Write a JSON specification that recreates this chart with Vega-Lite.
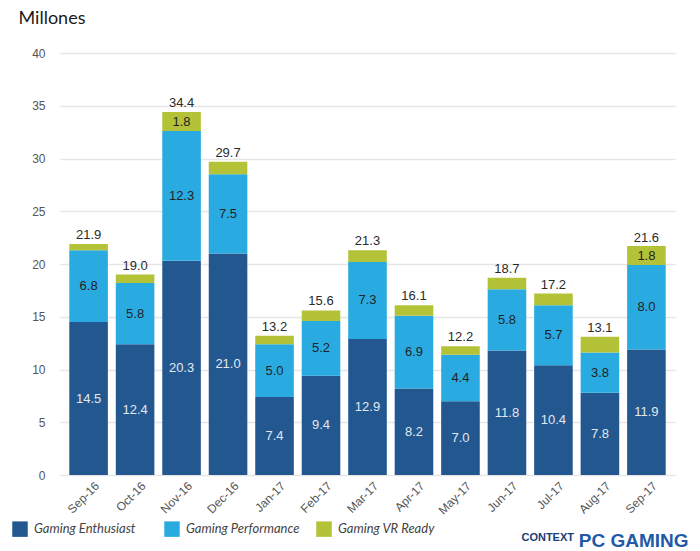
{
  "$schema": "https://vega.github.io/schema/vega-lite/v6.json",
  "autosize": {"type": "none"},
  "width": 615,
  "height": 422,
  "padding": {"left": 60, "top": 53, "right": 25, "bottom": 76},
  "background": "#ffffff",
  "config": {"view": {"stroke": null}},
  "title": {
    "text": "CONTEXT",
    "orient": "bottom",
    "anchor": "end",
    "frame": "group",
    "font": "Liberation Sans",
    "fontSize": 11,
    "fontWeight": "bold",
    "color": "#1c3c78",
    "offset": 0,
    "dx": -101,
    "dy": -18
  },
  "datasets": {
    "segments": [
      {"month": "Sep-16", "series": "Gaming Enthusiast", "value": 14.5},
      {"month": "Sep-16", "series": "Gaming Performance", "value": 6.8},
      {"month": "Sep-16", "series": "Gaming VR Ready", "value": 0.6},
      {"month": "Oct-16", "series": "Gaming Enthusiast", "value": 12.4},
      {"month": "Oct-16", "series": "Gaming Performance", "value": 5.8},
      {"month": "Oct-16", "series": "Gaming VR Ready", "value": 0.8},
      {"month": "Nov-16", "series": "Gaming Enthusiast", "value": 20.3},
      {"month": "Nov-16", "series": "Gaming Performance", "value": 12.3},
      {"month": "Nov-16", "series": "Gaming VR Ready", "value": 1.8},
      {"month": "Dec-16", "series": "Gaming Enthusiast", "value": 21.0},
      {"month": "Dec-16", "series": "Gaming Performance", "value": 7.5},
      {"month": "Dec-16", "series": "Gaming VR Ready", "value": 1.2},
      {"month": "Jan-17", "series": "Gaming Enthusiast", "value": 7.4},
      {"month": "Jan-17", "series": "Gaming Performance", "value": 5.0},
      {"month": "Jan-17", "series": "Gaming VR Ready", "value": 0.8},
      {"month": "Feb-17", "series": "Gaming Enthusiast", "value": 9.4},
      {"month": "Feb-17", "series": "Gaming Performance", "value": 5.2},
      {"month": "Feb-17", "series": "Gaming VR Ready", "value": 1.0},
      {"month": "Mar-17", "series": "Gaming Enthusiast", "value": 12.9},
      {"month": "Mar-17", "series": "Gaming Performance", "value": 7.3},
      {"month": "Mar-17", "series": "Gaming VR Ready", "value": 1.1},
      {"month": "Apr-17", "series": "Gaming Enthusiast", "value": 8.2},
      {"month": "Apr-17", "series": "Gaming Performance", "value": 6.9},
      {"month": "Apr-17", "series": "Gaming VR Ready", "value": 1.0},
      {"month": "May-17", "series": "Gaming Enthusiast", "value": 7.0},
      {"month": "May-17", "series": "Gaming Performance", "value": 4.4},
      {"month": "May-17", "series": "Gaming VR Ready", "value": 0.8},
      {"month": "Jun-17", "series": "Gaming Enthusiast", "value": 11.8},
      {"month": "Jun-17", "series": "Gaming Performance", "value": 5.8},
      {"month": "Jun-17", "series": "Gaming VR Ready", "value": 1.1},
      {"month": "Jul-17", "series": "Gaming Enthusiast", "value": 10.4},
      {"month": "Jul-17", "series": "Gaming Performance", "value": 5.7},
      {"month": "Jul-17", "series": "Gaming VR Ready", "value": 1.1},
      {"month": "Aug-17", "series": "Gaming Enthusiast", "value": 7.8},
      {"month": "Aug-17", "series": "Gaming Performance", "value": 3.8},
      {"month": "Aug-17", "series": "Gaming VR Ready", "value": 1.5},
      {"month": "Sep-17", "series": "Gaming Enthusiast", "value": 11.9},
      {"month": "Sep-17", "series": "Gaming Performance", "value": 8.0},
      {"month": "Sep-17", "series": "Gaming VR Ready", "value": 1.8}
    ],
    "totals": [
      {"month": "Sep-16", "total": 21.9},
      {"month": "Oct-16", "total": 19.0},
      {"month": "Nov-16", "total": 34.4},
      {"month": "Dec-16", "total": 29.7},
      {"month": "Jan-17", "total": 13.2},
      {"month": "Feb-17", "total": 15.6},
      {"month": "Mar-17", "total": 21.3},
      {"month": "Apr-17", "total": 16.1},
      {"month": "May-17", "total": 12.2},
      {"month": "Jun-17", "total": 18.7},
      {"month": "Jul-17", "total": 17.2},
      {"month": "Aug-17", "total": 13.1},
      {"month": "Sep-17", "total": 21.6}
    ]
  },
  "encoding": {
    "x": {
      "field": "month",
      "type": "nominal",
      "sort": null,
      "scale": {"paddingInner": 0.17, "paddingOuter": 0.2},
      "axis": {
        "labelAngle": -45,
        "labelFont": "Liberation Sans",
        "labelFontSize": 12,
        "labelColor": "#555555",
        "labelPadding": 5,
        "labelOffset": 5,
        "domain": false,
        "ticks": false,
        "title": "PC GAMING",
        "titleFont": "Liberation Sans",
        "titleFontSize": 19,
        "titleFontWeight": "bold",
        "titleColor": "#1f5aa6",
        "titleAlign": "right",
        "titleBaseline": "alphabetic",
        "titleX": 628,
        "titleY": 71
      }
    }
  },
  "layer": [
    {
      "data": {"name": "segments"},
      "mark": {"type": "bar"},
      "encoding": {
        "y": {
          "field": "value",
          "type": "quantitative",
          "stack": "zero",
          "scale": {"domain": [0, 40], "nice": false},
          "axis": {
            "values": [0, 5, 10, 15, 20, 25, 30, 35, 40],
            "labelFont": "Liberation Sans",
            "labelFontSize": 12,
            "labelColor": "#555555",
            "labelPadding": 15,
            "domain": false,
            "ticks": false,
            "gridColor": "#e6e6e6",
            "gridWidth": 1.5,
            "title": "Millones",
            "titleFont": "Lato",
            "titleFontSize": 18,
            "titleFontWeight": "normal",
            "titleColor": "#1a1a1a",
            "titleAngle": 0,
            "titleAlign": "left",
            "titleBaseline": "alphabetic",
            "titleX": -42,
            "titleY": -30
          }
        },
        "color": {
          "field": "series",
          "type": "nominal",
          "scale": {
            "domain": ["Gaming Enthusiast", "Gaming Performance", "Gaming VR Ready"],
            "range": ["#22578f", "#29abe2", "#b4c238"]
          },
          "legend": {
            "title": null,
            "orient": "none",
            "legendX": -48,
            "legendY": 468,
            "direction": "horizontal",
            "columns": 3,
            "gridAlign": "all",
            "columnPadding": 16,
            "symbolType": "square",
            "symbolSize": 240,
            "symbolStrokeWidth": 0,
            "symbolOffset": 0,
            "labelOffset": 6,
            "labelFont": "Lato",
            "labelFontStyle": "italic",
            "labelFontSize": 13,
            "labelColor": "#444444",
            "labelLimit": 200
          }
        },
        "order": {"field": "series", "sort": "ascending"}
      }
    },
    {
      "data": {"name": "segments"},
      "mark": {"type": "text", "font": "Liberation Sans", "fontSize": 13, "baseline": "middle"},
      "encoding": {
        "y": {"field": "value", "type": "quantitative", "stack": "zero", "bandPosition": 0.5},
        "detail": {"field": "series"},
        "order": {"field": "series", "sort": "ascending"},
        "text": {
          "condition": {"test": "datum.series !== 'Gaming VR Ready' || datum.value >= 1.8", "field": "value", "format": ".1f"},
          "value": ""
        },
        "color": {
          "condition": {"test": "datum.series === 'Gaming Enthusiast'", "value": "#e2e8f2"},
          "value": "#222222"
        }
      }
    },
    {
      "data": {"name": "totals"},
      "mark": {"type": "text", "font": "Liberation Sans", "fontSize": 13, "baseline": "alphabetic", "dy": -5, "color": "#2a2a2a"},
      "encoding": {
        "y": {"field": "total", "type": "quantitative"},
        "text": {"field": "total", "type": "quantitative", "format": ".1f"}
      }
    }
  ]
}
